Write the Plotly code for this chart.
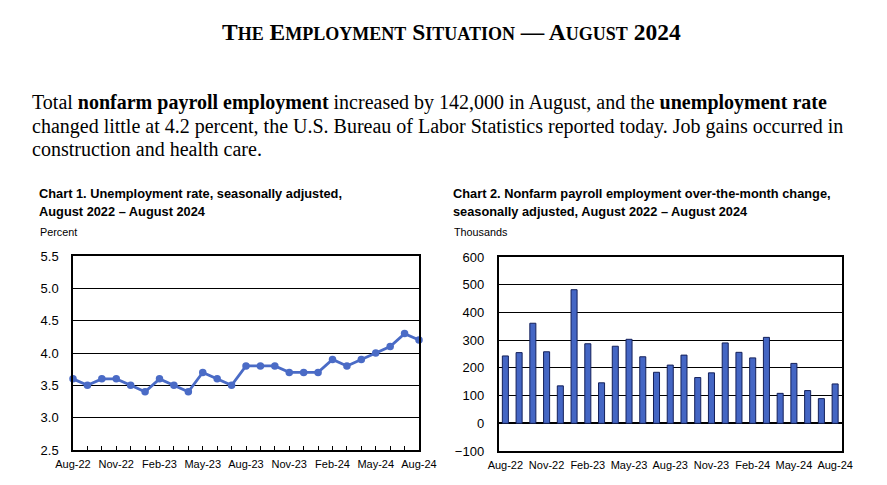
import plotly.graph_objects as go

months = ["Aug-22","Sep-22","Oct-22","Nov-22","Dec-22","Jan-23","Feb-23","Mar-23","Apr-23",
          "May-23","Jun-23","Jul-23","Aug-23","Sep-23","Oct-23","Nov-23","Dec-23","Jan-24",
          "Feb-24","Mar-24","Apr-24","May-24","Jun-24","Jul-24","Aug-24"]
unemployment_rate = [3.6,3.5,3.6,3.6,3.5,3.4,3.6,3.5,3.4,3.7,3.6,3.5,3.8,3.8,3.8,3.7,3.7,3.7,
                     3.9,3.8,3.9,4.0,4.1,4.3,4.2]
payroll_change = [243,255,361,258,135,482,287,146,278,303,240,184,210,246,165,182,290,256,
                  236,310,108,216,118,89,142]
tick_labels = ["Aug-22","Nov-22","Feb-23","May-23","Aug-23","Nov-23","Feb-24","May-24","Aug-24"]

W, H = 887, 485
OFF = 8  # page body margin
def px(x): return (x - OFF) / W
def py(y): return 1 - (y - OFF) / H

fig = go.Figure()
idx = list(range(len(months)))
fig.add_trace(go.Scatter(x=idx, y=unemployment_rate, mode="lines+markers",
                         line=dict(color="#4a6bc6", width=2.8),
                         marker=dict(color="#4a6bc6", size=7.5),
                         xaxis="x", yaxis="y", showlegend=False, cliponaxis=False))
fig.add_trace(go.Bar(x=months, y=payroll_change,
                     marker=dict(color="#4466c4", line=dict(color="#14205a", width=1)),
                     xaxis="x2", yaxis="y2", showlegend=False))

axfont = dict(family="Liberation Sans, Arial", size=11, color="black")
yfont = dict(family="Liberation Sans, Arial", size=13, color="black")

fig.update_layout(
    width=W, height=H, margin=dict(l=0, r=0, t=0, b=0, autoexpand=False),
    paper_bgcolor="white", plot_bgcolor="white", bargap=0.56,
    xaxis=dict(domain=[px(73), px(419)], range=[0, 24], tickvals=[0,3,6,9,12,15,18,21,24],
               ticktext=tick_labels, ticks="inside", ticklen=4, tickcolor="black",
               minor=dict(ticks="inside", dtick=1, ticklen=4, tickcolor="black", showgrid=False),
               showgrid=False, showline=True, linecolor="black", linewidth=1.5, mirror=True,
               tickfont=axfont, anchor="y", zeroline=False, automargin=False,
               ticklabelstandoff=3),
    yaxis=dict(domain=[py(450), py(256)], range=[2.5, 5.5], dtick=0.5, tickformat=".1f",
               showgrid=True, gridcolor="black", gridwidth=1, showline=True, linecolor="black",
               linewidth=1.5, mirror=True, tickfont=yfont, ticks="", ticklabelstandoff=10,
               anchor="x", zeroline=False, automargin=False),
    xaxis2=dict(domain=[px(498.5), px(842)], type="category",
                tickvals=tick_labels, ticktext=tick_labels, ticks="",
                showgrid=False, showline=True, linecolor="black", linewidth=1.5, mirror=True,
                tickfont=axfont, anchor="y2", automargin=False, ticklabelstandoff=3),
    yaxis2=dict(domain=[py(451), py(257)], range=[-100, 600], dtick=100,
                showgrid=True, gridcolor="black", gridwidth=1, showline=True, linecolor="black",
                linewidth=1.5, mirror=True, tickfont=yfont, ticks="", ticklabelstandoff=10,
                zeroline=True, zerolinecolor="black", zerolinewidth=1.5, anchor="x2",
                automargin=False),
)

serif = "Liberation Serif, Times New Roman"
sans = "Liberation Sans, Arial"

def ann(text, x, y, size, family, xanchor="left", yanchor="middle"):
    fig.add_annotation(text=text, x=px(x), y=py(y), xref="paper", yref="paper",
                       xanchor=xanchor, yanchor=yanchor, showarrow=False,
                       font=dict(family=family, size=size, color="black"))

sc = lambda s: "<span style='font-size:18px'>" + s + "</span>"
title = "<b>T" + sc("HE") + " E" + sc("MPLOYMENT") + " S" + sc("ITUATION") + " — A" + sc("UGUST") + " 2024</b>"
ann(title, 451, 32, 23.5, serif, xanchor="center")

ann("Total <b>nonfarm payroll employment</b> increased by 142,000 in August, and the <b>unemployment rate</b>",
    30, 103, 20, serif)
ann("changed little at 4.2 percent, the U.S. Bureau of Labor Statistics reported today. Job gains occurred in",
    30, 126, 20, serif)
ann("construction and health care.", 30, 149, 20, serif)

ann("<b>Chart 1. Unemployment rate, seasonally adjusted,</b>", 37, 194, 12.8, sans)
ann("<b>August 2022 – August 2024</b>", 37, 211, 12.8, sans)
ann("Percent", 38, 232, 10.8, sans)

ann("<b>Chart 2. Nonfarm payroll employment over-the-month change,</b>", 451, 194, 12.8, sans)
ann("<b>seasonally adjusted, August 2022 – August 2024</b>", 451, 211, 12.8, sans)
ann("Thousands", 452, 232, 10.8, sans)

fig.write_html("out.html")
